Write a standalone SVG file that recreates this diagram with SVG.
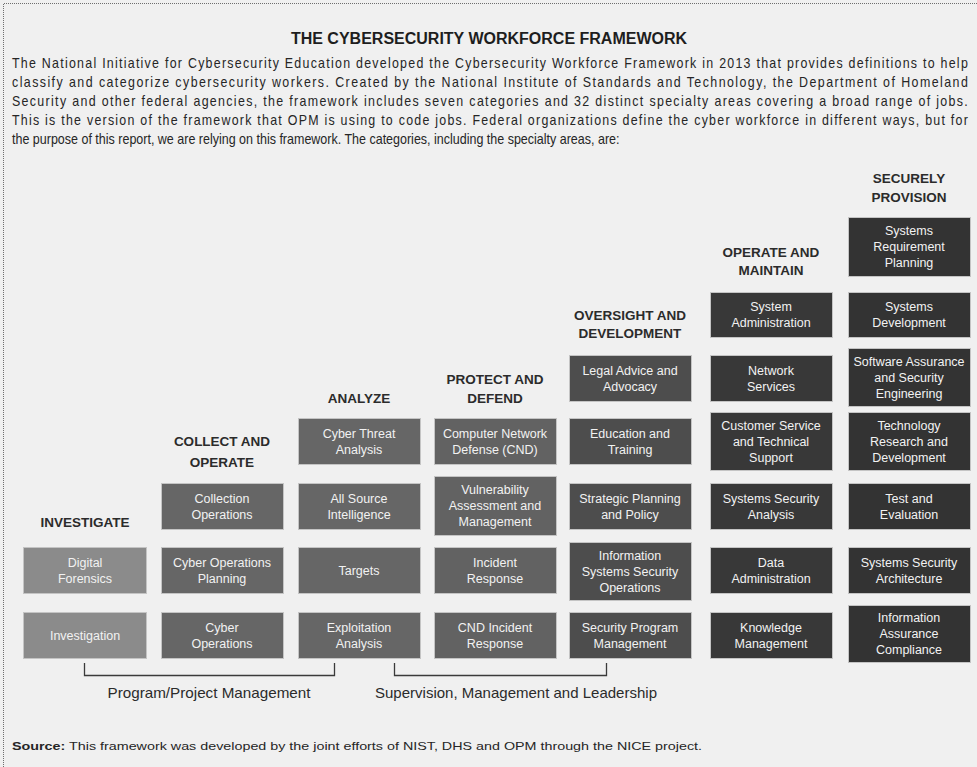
<svg xmlns="http://www.w3.org/2000/svg" width="977" height="767" viewBox="0 0 977 767">
  <style>
    .bg { fill: #f0f0f0; }
    .frame { stroke: #6e6e6e; stroke-width: 1; stroke-dasharray: 1 1; fill: none; }
    .title { font: bold 16px "Liberation Sans", Arial, sans-serif; fill: #1e1e1e; text-anchor: middle; }
    .para { font: 13.8px "Liberation Sans", Arial, sans-serif; fill: #262626; }
    .cat { font: bold 13.5px "Liberation Sans", Arial, sans-serif; fill: #2b2b2b; text-anchor: middle; }
    .box rect { stroke: #c4c4c4; stroke-width: 1; }
    .box text { font: 12.5px "Liberation Sans", Arial, sans-serif; fill: #f2f2f2; text-anchor: middle; }
    .c1 rect { fill: #8b8b8b; }
    .c2 rect { fill: #666666; }
    .c3 rect { fill: #626262; }
    .c4 rect { fill: #4d4d4d; }
    .c5 rect { fill: #383838; }
    .c6 rect { fill: #333333; }
    .bracket { fill: none; stroke: #3a3a3a; stroke-width: 1.3; }
    .blabel { font: 14.5px "Liberation Sans", Arial, sans-serif; fill: #2b2b2b; text-anchor: middle; }
    .src { font: 11.5px "Liberation Sans", Arial, sans-serif; fill: #262626; }
  </style>

  <rect class="bg" x="0" y="0" width="977" height="767"/>
  <path class="frame" d="M3.5 767 V3.5 H977"/>

  <!-- heading and introduction -->
  <text class="title" x="489" y="44">THE CYBERSECURITY WORKFORCE FRAMEWORK</text>
  <!-- narrowed body copy, justified lines stretched to the column width -->
  <g class="para" transform="scale(0.9 1)">
    <text x="13.33" y="68" textLength="1062" lengthAdjust="spacing">The National Initiative for Cybersecurity Education developed the Cybersecurity Workforce Framework in 2013 that provides definitions to help</text>
    <text x="13.33" y="87" textLength="1062" lengthAdjust="spacing">classify and categorize cybersecurity workers. Created by the National Institute of Standards and Technology, the Department of Homeland</text>
    <text x="13.33" y="106" textLength="1062" lengthAdjust="spacing">Security and other federal agencies, the framework includes seven categories and 32 distinct specialty areas covering a broad range of jobs.</text>
    <text x="13.33" y="125" textLength="1062" lengthAdjust="spacing">This is the version of the framework that OPM is using to code jobs. Federal organizations define the cyber workforce in different ways, but for</text>
    <text x="13.33" y="144" textLength="675" lengthAdjust="spacingAndGlyphs">the purpose of this report, we are relying on this framework. The categories, including the specialty areas, are:</text>
  </g>

  <!-- category headings -->
  <g id="categories">
    <text class="cat" x="85" y="527">INVESTIGATE</text>
    <text class="cat" x="222" y="446">COLLECT AND</text>
    <text class="cat" x="222" y="467">OPERATE</text>
    <text class="cat" x="359" y="403">ANALYZE</text>
    <text class="cat" x="495" y="384">PROTECT AND</text>
    <text class="cat" x="495" y="403">DEFEND</text>
    <text class="cat" x="630" y="320">OVERSIGHT AND</text>
    <text class="cat" x="630" y="338">DEVELOPMENT</text>
    <text class="cat" x="771" y="257">OPERATE AND</text>
    <text class="cat" x="771" y="275">MAINTAIN</text>
    <text class="cat" x="909" y="183">SECURELY</text>
    <text class="cat" x="909" y="202">PROVISION</text>
  </g>

  <!-- Investigate -->
  <g id="digital-forensics" class="box c1"><rect x="23.5" y="547.5" width="123" height="46"/><text x="85" y="567">Digital</text><text x="85" y="583">Forensics</text></g>
  <g id="investigation" class="box c1"><rect x="23.5" y="612.5" width="123" height="46"/><text x="85" y="640">Investigation</text></g>

  <!-- Collect and Operate -->
  <g id="collection-operations" class="box c2"><rect x="161.5" y="483.5" width="122" height="46"/><text x="222" y="503">Collection</text><text x="222" y="519">Operations</text></g>
  <g id="cyber-operations-planning" class="box c2"><rect x="161.5" y="547.5" width="122" height="46"/><text x="222" y="567">Cyber Operations</text><text x="222" y="583">Planning</text></g>
  <g id="cyber-operations" class="box c2"><rect x="161.5" y="612.5" width="122" height="46"/><text x="222" y="632">Cyber</text><text x="222" y="648">Operations</text></g>

  <!-- Analyze -->
  <g id="cyber-threat-analysis" class="box c2"><rect x="298.5" y="418.5" width="122" height="46"/><text x="359" y="438">Cyber Threat</text><text x="359" y="454">Analysis</text></g>
  <g id="all-source-intelligence" class="box c2"><rect x="298.5" y="483.5" width="122" height="46"/><text x="359" y="503">All Source</text><text x="359" y="519">Intelligence</text></g>
  <g id="targets" class="box c2"><rect x="298.5" y="547.5" width="122" height="46"/><text x="359" y="575">Targets</text></g>
  <g id="exploitation-analysis" class="box c2"><rect x="298.5" y="612.5" width="122" height="46"/><text x="359" y="632">Exploitation</text><text x="359" y="648">Analysis</text></g>

  <!-- Protect and Defend -->
  <g id="cnd" class="box c3"><rect x="434.5" y="418.5" width="122" height="46"/><text x="495" y="438">Computer Network</text><text x="495" y="454">Defense (CND)</text></g>
  <g id="vulnerability-assessment" class="box c3"><rect x="434.5" y="476.5" width="122" height="59"/><text x="495" y="494">Vulnerability</text><text x="495" y="510">Assessment and</text><text x="495" y="526">Management</text></g>
  <g id="incident-response" class="box c3"><rect x="434.5" y="547.5" width="122" height="46"/><text x="495" y="567">Incident</text><text x="495" y="583">Response</text></g>
  <g id="cnd-incident-response" class="box c3"><rect x="434.5" y="612.5" width="122" height="46"/><text x="495" y="632">CND Incident</text><text x="495" y="648">Response</text></g>

  <!-- Oversight and Development -->
  <g id="legal-advice" class="box c4"><rect x="569.5" y="355.5" width="122" height="46"/><text x="630" y="375">Legal Advice and</text><text x="630" y="391">Advocacy</text></g>
  <g id="education-training" class="box c4"><rect x="569.5" y="418.5" width="122" height="46"/><text x="630" y="438">Education and</text><text x="630" y="454">Training</text></g>
  <g id="strategic-planning" class="box c4"><rect x="569.5" y="483.5" width="122" height="46"/><text x="630" y="503">Strategic Planning</text><text x="630" y="519">and Policy</text></g>
  <g id="info-systems-security-ops" class="box c4"><rect x="569.5" y="542.5" width="122" height="58"/><text x="630" y="560">Information</text><text x="630" y="576">Systems Security</text><text x="630" y="592">Operations</text></g>
  <g id="security-program-management" class="box c4"><rect x="569.5" y="612.5" width="122" height="46"/><text x="630" y="632">Security Program</text><text x="630" y="648">Management</text></g>

  <!-- Operate and Maintain -->
  <g id="system-administration" class="box c5"><rect x="710.5" y="292.5" width="122" height="45"/><text x="771" y="311">System</text><text x="771" y="327">Administration</text></g>
  <g id="network-services" class="box c5"><rect x="710.5" y="355.5" width="122" height="46"/><text x="771" y="375">Network</text><text x="771" y="391">Services</text></g>
  <g id="customer-service" class="box c5"><rect x="710.5" y="412.5" width="122" height="58"/><text x="771" y="430">Customer Service</text><text x="771" y="446">and Technical</text><text x="771" y="462">Support</text></g>
  <g id="systems-security-analysis" class="box c5"><rect x="710.5" y="483.5" width="122" height="46"/><text x="771" y="503">Systems Security</text><text x="771" y="519">Analysis</text></g>
  <g id="data-administration" class="box c5"><rect x="710.5" y="547.5" width="122" height="46"/><text x="771" y="567">Data</text><text x="771" y="583">Administration</text></g>
  <g id="knowledge-management" class="box c5"><rect x="710.5" y="612.5" width="122" height="46"/><text x="771" y="632">Knowledge</text><text x="771" y="648">Management</text></g>

  <!-- Securely Provision -->
  <g id="systems-requirement-planning" class="box c6"><rect x="848.5" y="217.5" width="122" height="59"/><text x="909" y="235">Systems</text><text x="909" y="251">Requirement</text><text x="909" y="267">Planning</text></g>
  <g id="systems-development" class="box c6"><rect x="848.5" y="292.5" width="122" height="45"/><text x="909" y="311">Systems</text><text x="909" y="327">Development</text></g>
  <g id="software-assurance" class="box c6"><rect x="848.5" y="348.5" width="122" height="58"/><text x="909" y="366">Software Assurance</text><text x="909" y="382">and Security</text><text x="909" y="398">Engineering</text></g>
  <g id="technology-research" class="box c6"><rect x="848.5" y="412.5" width="122" height="58"/><text x="909" y="430">Technology</text><text x="909" y="446">Research and</text><text x="909" y="462">Development</text></g>
  <g id="test-evaluation" class="box c6"><rect x="848.5" y="483.5" width="122" height="46"/><text x="909" y="503">Test and</text><text x="909" y="519">Evaluation</text></g>
  <g id="systems-security-architecture" class="box c6"><rect x="848.5" y="547.5" width="122" height="46"/><text x="909" y="567">Systems Security</text><text x="909" y="583">Architecture</text></g>
  <g id="info-assurance-compliance" class="box c6"><rect x="848.5" y="605.5" width="122" height="57"/><text x="909" y="622">Information</text><text x="909" y="638">Assurance</text><text x="909" y="654">Compliance</text></g>

  <!-- cross-cutting brackets -->
  <g id="connectors">
    <path class="bracket" d="M84.5 663 V675.5 H334.5 V663"/>
    <path class="bracket" d="M394.5 663 V675.5 H606.5 V663"/>
  </g>
  <text class="blabel" x="209" y="698" textLength="203" lengthAdjust="spacingAndGlyphs">Program/Project Management</text>
  <text class="blabel" x="516" y="698" textLength="282" lengthAdjust="spacingAndGlyphs">Supervision, Management and Leadership</text>

  <!-- footnote -->
  <text class="src" x="12" y="750" textLength="690" lengthAdjust="spacingAndGlyphs"><tspan font-weight="bold">Source:</tspan> This framework was developed by the joint efforts of NIST, DHS and OPM through the NICE project.</text>
</svg>
